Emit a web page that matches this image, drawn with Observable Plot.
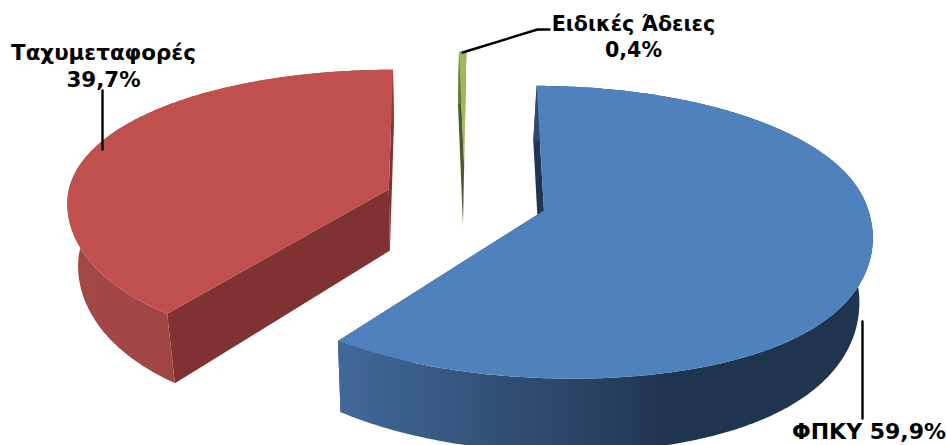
<!DOCTYPE html>
<html>
<head>
<meta charset="utf-8">
<script src="https://cdn.jsdelivr.net/npm/d3@7"></script>
<script src="https://cdn.jsdelivr.net/npm/@observablehq/plot@0.6"></script>
<style>html,body{margin:0;padding:0;background:#fff}svg{display:block}</style>
</head>
<body>
<div id="chart"></div>
<script>
// Data
const categories = ["ΦΠΚΥ", "Ταχυμεταφορές", "Ειδικές Άδειες"];
const shares = [59.9, 39.7, 0.4];

// Labels and leader lines
const labelLines = ["Ταχυμεταφορές", "39,7%", "Ειδικές Άδειες", "0,4%", "ΦΠΚΥ 59,9%"];
const labelX = [103, 103, 633, 633, 868.5];
const labelY = [53, 80, 24, 50, 431];
const labelSize = [21.4, 21.4, 20.6, 20.6, 22];
const leaderPart = [0, 0, 1, 1, 1, 2, 2];
const leaderX = [102, 102, 462, 537, 549, 862, 862];
const leaderY = [90, 149, 52, 29, 29, 321, 418];

// Slice styling
const topColors = ["#4f81bd", "#c0504d", "#9bbb59"];
const cutColors = ["#1f3552", "#7f3231", "#4c5c2b"];
const rimFills = ["url(#rimBlue)", "url(#rimRed)", "url(#rimGreen)"];
const rotateStart = [0.4, 1, 1];
const rotateEnd = [1, 1.7, 1];

// Camera used to project the exploded 3D pie
const R = 322, explode = 81, depth = 62;
const cx = 465.5, cy = 199, vx = 425, hy = -750, hx = -1363, ky = 0.147 / 321, shrink = 0.97, front = 4.2e-6;

function project(a, b) {
  const y = hy + (cy - hy) / (1 + ky * b);
  const below = Math.max(0, y - cy);
  const fx = (y - hx) / (cy - hx) + front * below * below;
  return [vx + (cx - vx + a) * fx, y];
}
function lower([x, y]) {
  return [vx + (x - vx) * shrink, y + depth * (y - hy) / (cy - hy)];
}
const rad = (d) => d * Math.PI / 180;

const total = d3.sum(shares);
let acc = 0;
const slices = shares.map((v, i) => {
  const t0 = acc / total * 360;
  acc += v;
  const t1 = acc / total * 360;
  const mid = (t0 + t1) / 2;
  const a0 = explode * Math.sin(rad(mid)), b0 = explode * Math.cos(rad(mid));
  const n = Math.max(4, Math.ceil((t1 - t0) * 1.5));
  const rim = d3.range(n + 1).map((k) => {
    const u = k / n;
    const t = t0 + (t1 - t0) * u + rotateStart[i] + (rotateEnd[i] - rotateStart[i]) * u;
    return project(a0 + R * Math.sin(rad(t)), b0 + R * Math.cos(rad(t)));
  });
  const apex = project(a0, b0);
  const rimLow = rim.map(lower);
  const apexLow = lower(apex);
  return {
    i,
    top: [apex, ...rim],
    outer: [...rim, ...rimLow.slice().reverse()],
    cutStart: [apex, rim[0], rimLow[0], apexLow],
    cutEnd: [apex, rim[n], rimLow[n], apexLow]
  };
});

const gradient = (id, stops) => () => {
  const ns = "http://www.w3.org/2000/svg";
  const g = document.createElementNS(ns, "linearGradient");
  g.setAttribute("id", id);
  for (const [o, c] of stops) {
    const s = document.createElementNS(ns, "stop");
    s.setAttribute("offset", o);
    s.setAttribute("stop-color", c);
    g.appendChild(s);
  }
  const d = document.createElementNS(ns, "defs");
  d.appendChild(g);
  return d;
};

const poly = (pts, fill) => Plot.line(pts, {x: (d) => d[0], y: (d) => d[1], fill, stroke: "none", curve: "linear"});

const marks = [
  gradient("rimBlue", [[0, "#41699a"], [0.5, "#273f5f"], [0.62, "#1f344f"], [1, "#1f344f"]]),
  gradient("rimRed", [[0, "#a34846"], [0.5, "#9e4442"], [1, "#943b39"]]),
  gradient("rimGreen", [[0, "#6d8440"], [1, "#4c5c2b"]])
];
for (const s of [slices[1], slices[2], slices[0]]) {
  marks.push(poly(s.cutEnd, cutColors[s.i]));
  marks.push(poly(s.cutStart, cutColors[s.i]));
  marks.push(poly(s.outer, rimFills[s.i]));
  marks.push(poly(s.top, topColors[s.i]));
}
marks.push(Plot.line(leaderX.map((x, i) => ({x, y: leaderY[i], z: leaderPart[i]})), {
  x: "x", y: "y", z: "z", stroke: "#000", strokeWidth: 2.4, curve: "linear"
}));
marks.push(Plot.text(labelLines, {
  x: (d, i) => labelX[i], y: (d, i) => labelY[i], text: (d) => d,
  fontSize: (d, i) => labelSize[i],
  fontFamily: "DejaVu Sans", fontWeight: "bold", fill: "#000", textAnchor: "middle", lineAnchor: "middle"
}));

const chart = Plot.plot({
  width: 946, height: 445,
  margin: 0,
  x: {domain: [0, 946], range: [0, 946], axis: null},
  y: {domain: [0, 445], range: [0, 445], axis: null},
  style: {background: "#fff"},
  marks
});
document.getElementById("chart").appendChild(chart);
</script>
</body>
</html>
